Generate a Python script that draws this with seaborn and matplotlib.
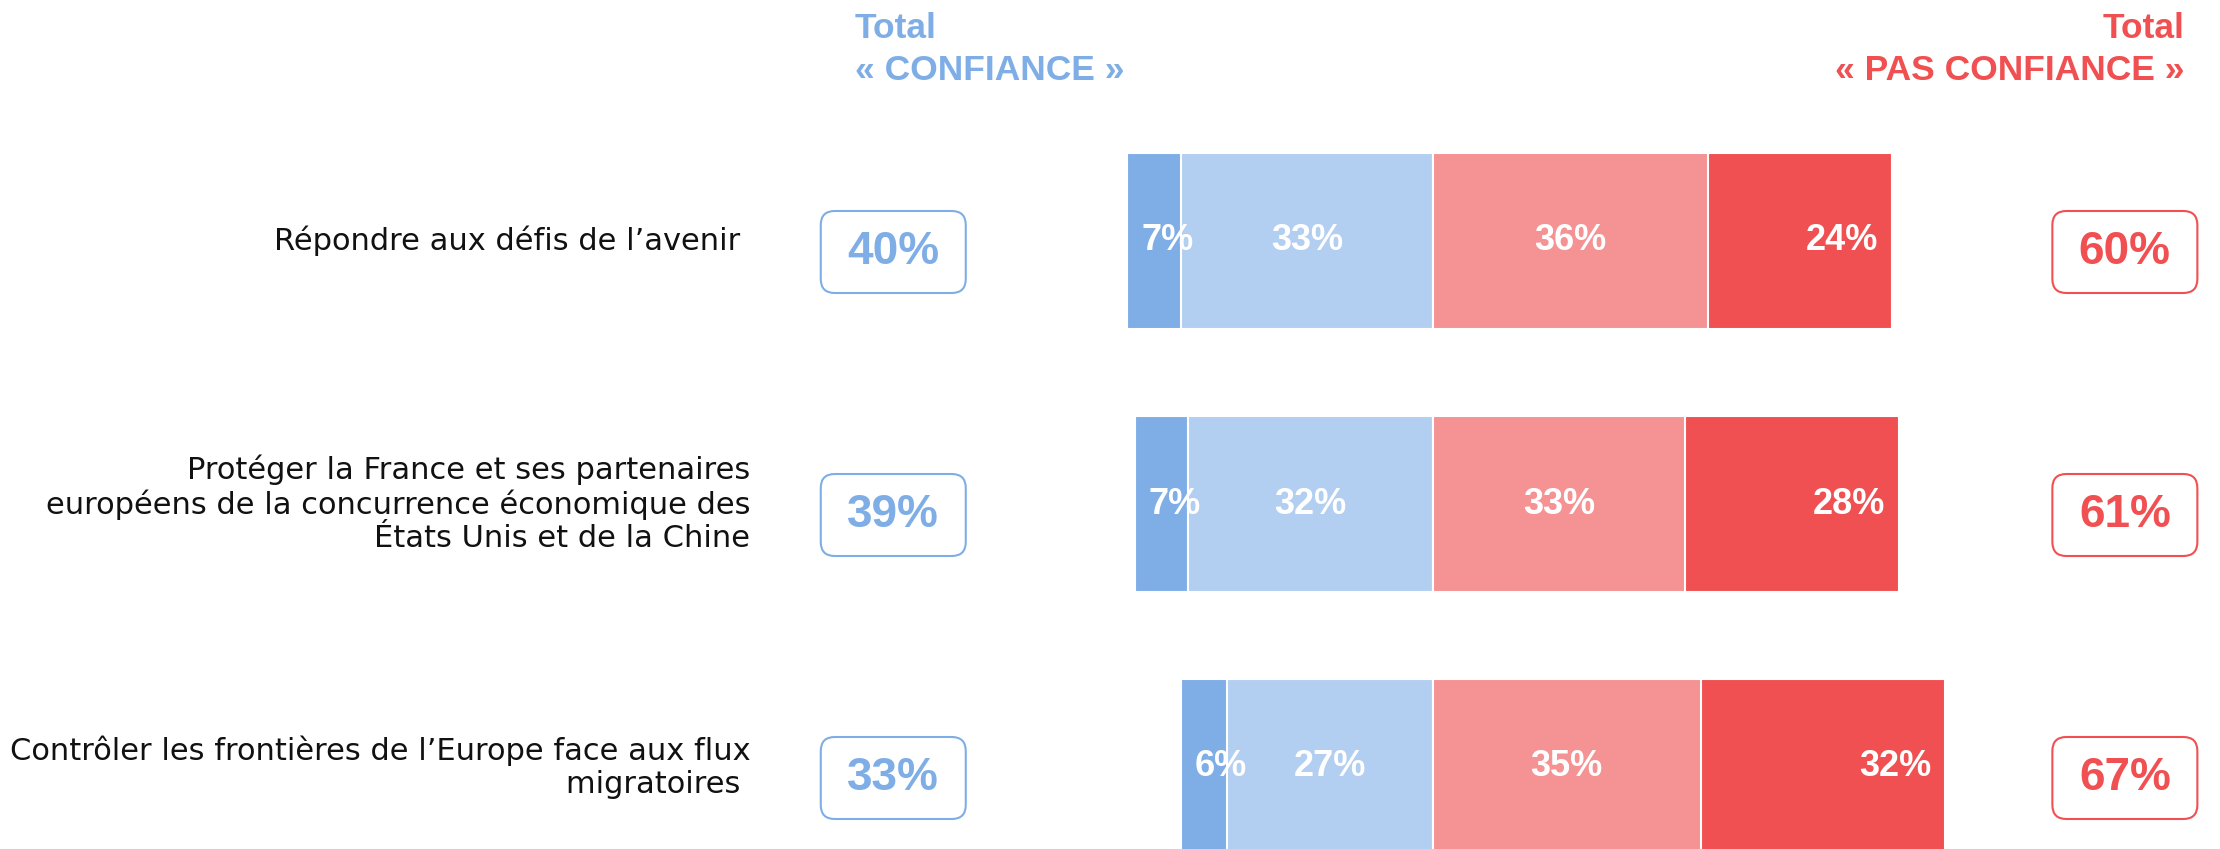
import numpy as np
import pandas as pd
import seaborn as sns
import matplotlib.pyplot as plt
from matplotlib.patches import FancyBboxPatch

# données
categories = [
    "Répondre aux défis de l’avenir ",
    "Protéger la France et ses partenaires\neuropéens de la concurrence économique des\nÉtats Unis et de la Chine",
    "Contrôler les frontières de l’Europe face aux flux\nmigratoires ",
]
tout_a_fait = [7, 7, 6]        # confiance forte
plutot = [33, 32, 27]          # plutôt confiance
plutot_pas = [36, 33, 35]      # plutôt pas confiance
pas_du_tout = [24, 28, 32]     # pas du tout confiance
total_confiance = [40, 39, 33]
total_pas_confiance = [60, 61, 67]

c_bleu = "#7FAEE6"
c_bleu_clair = "#B2CEF1"
c_rose = "#F59394"
c_rouge = "#F05051"

df = pd.DataFrame({
    "cat": categories,
    "neg_total": -(np.array(tout_a_fait) + np.array(plutot)),
    "neg_plutot": -np.array(plutot),
    "pos_total": np.array(plutot_pas) + np.array(pas_du_tout),
    "pos_plutot": np.array(plutot_pas),
})

# mise en page (pixels)
W, H = 2220, 849
centre_px = 1433
px_par_pct = 7.645
ligne0_px, pas_ligne = 241, 263

sns.set_theme(style="white")
plt.rcParams['font.family'] = ['Liberation Sans', 'DejaVu Sans']

fig = plt.figure(figsize=(W / 100, H / 100), dpi=100)
ax = fig.add_axes([0, 0, 1, 1])

# barres empilées divergentes
kw = dict(y="cat", data=df, orient="y", width=0.667, edgecolor="white",
          linewidth=1.5, saturation=1, ax=ax)
sns.barplot(x="neg_total", color=c_bleu, **kw)
sns.barplot(x="neg_plutot", color=c_bleu_clair, **kw)
sns.barplot(x="pos_total", color=c_rouge, **kw)
sns.barplot(x="pos_plutot", color=c_rose, **kw)

ax.set_xlim(-centre_px / px_par_pct, (W - centre_px) / px_par_pct)
ax.set_ylim(2 + (H - (ligne0_px + 2 * pas_ligne)) / pas_ligne, -ligne0_px / pas_ligne)
ax.axis("off")

px_x = 1 / px_par_pct
px_y = 1 / pas_ligne

lbl = dict(color="white", fontsize=26, fontweight="bold", va="center")
for i in range(len(categories)):
    g = -(tout_a_fait[i] + plutot[i])
    ax.text(g + 14 * px_x, i, f"{tout_a_fait[i]}%", ha="left", **lbl)
    ax.text(-plutot[i] / 2, i, f"{plutot[i]}%", ha="center", **lbl)
    ax.text(plutot_pas[i] / 2, i, f"{plutot_pas[i]}%", ha="center", **lbl)
    d = plutot_pas[i] + pas_du_tout[i]
    ax.text(d - 14 * px_x, i, f"{pas_du_tout[i]}%", ha="right", **lbl)

    # libellés
    ax.text(-89.3, i, categories[i], ha="right", va="center", multialignment="right",
            fontsize=22, family=["DejaVu Sans"], color="#111111", linespacing=1.17)

    # boîtes des totaux
    yb = i + 11 * px_y
    for xc, val, col in [(-70.6, total_confiance[i], c_bleu), (90.5, total_pas_confiance[i], c_rouge)]:
        bw, bh = 145 * px_x, 82 * px_y
        box = FancyBboxPatch((xc - bw / 2, yb - bh / 2), bw, bh,
                             boxstyle=f"round,pad=0,rounding_size={14 * px_x}",
                             mutation_aspect=px_y / px_x,
                             facecolor="white", edgecolor=col, linewidth=1.5)
        ax.add_patch(box)
        ax.text(xc, yb, f"{val}%", ha="center", va="center", color=col,
                fontsize=33, fontweight="bold")

# en-têtes
hd = dict(fontsize=25.5, fontweight="bold", va="center")
ax.text(-75.6, -213 * px_y, "Total", ha="left", color=c_bleu, **hd)
ax.text(-75.6, -170 * px_y, "« CONFIANCE »", ha="left", color=c_bleu, **hd)
ax.text(98.3, -213 * px_y, "Total", ha="right", color=c_rouge, **hd)
ax.text(98.3, -170 * px_y, "« PAS CONFIANCE »", ha="right", color=c_rouge, **hd)

plt.savefig("out.png", dpi=100)
